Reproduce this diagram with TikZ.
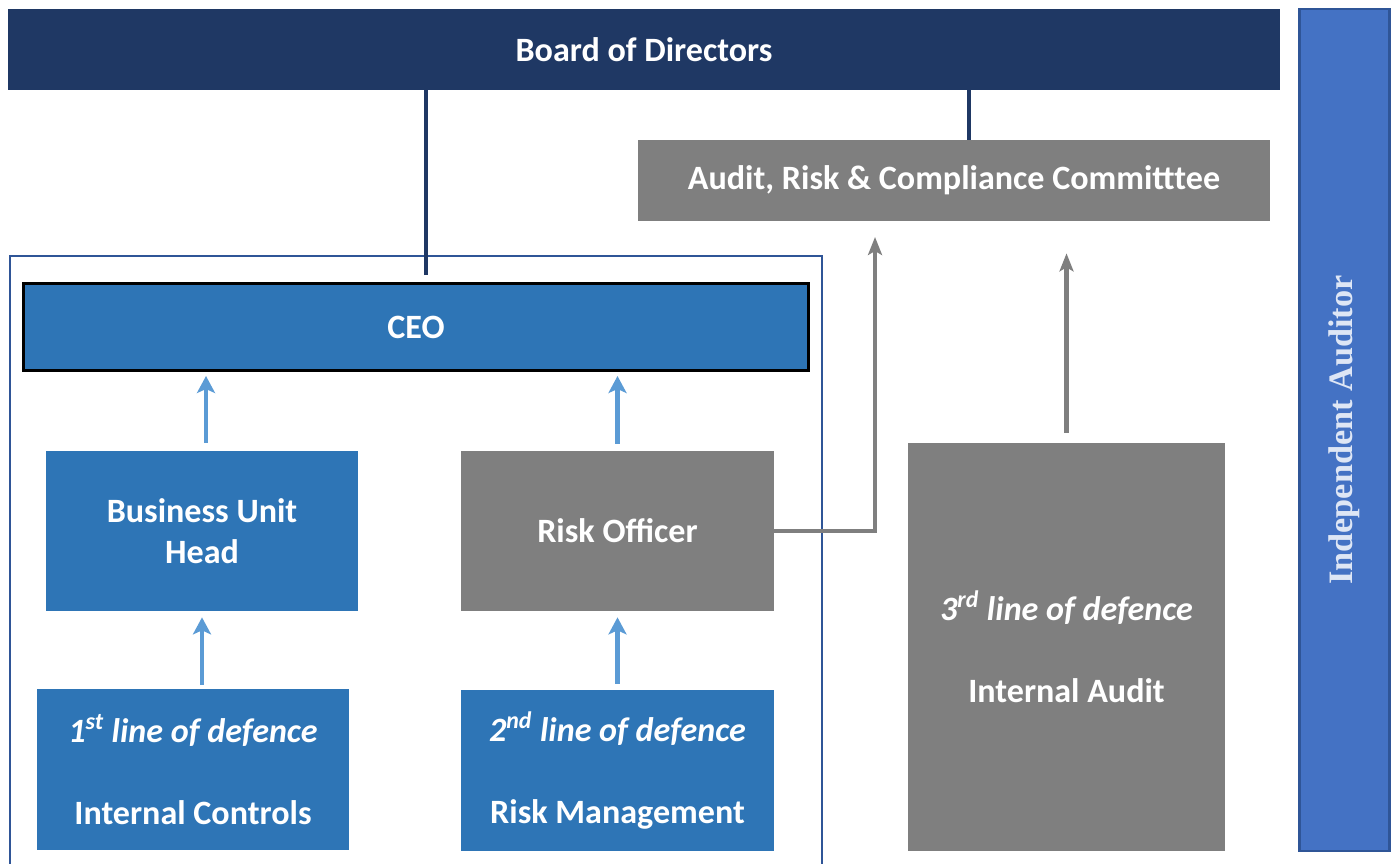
\documentclass[tikz,border=0pt]{standalone}
\usepackage{fontspec}
\setmainfont{Carlito}
\newfontfamily\auditfont{Liberation Serif}
\usetikzlibrary{arrows.meta}

\definecolor{navy}{RGB}{31,56,100}
\definecolor{ceoblue}{RGB}{46,117,182}
\definecolor{arrowblue}{RGB}{91,155,213}
\definecolor{boxgray}{RGB}{127,127,127}
\definecolor{frameblue}{RGB}{47,85,151}
\definecolor{auditblue}{RGB}{68,114,196}
\definecolor{audittext}{RGB}{222,230,245}

\tikzset{
  label text/.style={text=white, align=center, inner sep=0pt,
    font=\bfseries\fontsize{19.4}{23.3}\selectfont},
  bluebox/.style={label text, fill=ceoblue},
  graybox/.style={label text, fill=boxgray},
  uparrow/.style={draw=arrowblue, line width=2.8pt,
    -{Stealth[length=0.34cm,width=0.36cm,inset=0.08cm]}},
  grayarrow/.style={draw=boxgray, line width=2.3pt,
    -{Stealth[length=0.36cm,width=0.28cm,inset=0.08cm]}},
  navyline/.style={draw=navy, line width=2.3pt}
}

\begin{document}
\begin{tikzpicture}[x=0.02cm, y=-0.02cm]
  \newcommand\px{0.02cm}
  \useasboundingbox (0,0) rectangle (1391,864);

  % top of the structure
  \node (bod) [label text, fill=navy, minimum width=1272*\px, minimum height=81*\px]
    at (644,49.5) {Board of Directors};
  \node (arc) [graybox, minimum width=632*\px, minimum height=81*\px]
    at (954,180.5) {Audit, Risk \& Compliance Committtee};
  \node (indaud) [fill=auditblue, draw=frameblue, line width=1.5pt, rotate=90,
    minimum width=842*\px, minimum height=90*\px, text=audittext,
    font=\auditfont\bfseries\fontsize{19.5}{23}\selectfont]
    at (1344.5,430) {Independent Auditor};

  % management frame
  \draw[frameblue, line width=1.4pt] (10,256) rectangle (822,880);
  \node (ceo) [bluebox, draw=black, line width=1.7pt, minimum width=785*\px, minimum height=87*\px]
    at (416,327) {CEO};

  \node (buh) [bluebox, minimum width=312*\px, minimum height=160*\px]
    at (202,531) {Business Unit\\Head};
  \node (ic) [bluebox, minimum width=312*\px, minimum height=161*\px]
    at (193,769.5) {\textit{1\textsuperscript{st} line of defence}\\[23.3pt]Internal Controls};
  \node (ro) [graybox, minimum width=313*\px, minimum height=160*\px]
    at (617.5,531) {Risk Officer};
  \node (rm) [bluebox, minimum width=313*\px, minimum height=161*\px]
    at (617.5,770.5) {\textit{2\textsuperscript{nd} line of defence}\\[23.3pt]Risk Management};
  \node (ia) [graybox, minimum width=317*\px, minimum height=408*\px]
    at (1066.5,647) {\textit{3\textsuperscript{rd} line of defence}\\[23.3pt]Internal Audit};

  % reporting lines
  \draw[navyline, shorten <=0.14cm] ([xshift=0.2cm]ceo.north) -- ([xshift=0.2cm]ceo.north |- bod.south);
  \draw[navyline] ([xshift=0.3cm]arc.north) -- ([xshift=0.3cm]arc.north |- bod.south);

  \draw[uparrow, shorten <=0.16cm, shorten >=0.08cm] ([xshift=0.08cm]buh.north) -- ([xshift=0.08cm]buh.north |- ceo.south);
  \draw[uparrow, shorten <=0.08cm, shorten >=0.12cm] ([xshift=0.18cm]ic.north) -- ([xshift=0.18cm]ic.north |- buh.south);
  \draw[uparrow, shorten <=0.14cm, shorten >=0.08cm] (ro.north) -- (ro.north |- ceo.south);
  \draw[uparrow, shorten <=0.12cm, shorten >=0.12cm] (rm.north) -- (rm.north |- ro.south);

  \coordinate (roin) at (875,221);
  \draw[grayarrow, shorten >=0.32cm] (ro.east) -| (roin);
  \draw[grayarrow, shorten <=0.2cm, shorten >=0.64cm] (ia.north) -- (ia.north |- arc.south);
\end{tikzpicture}
\end{document}
